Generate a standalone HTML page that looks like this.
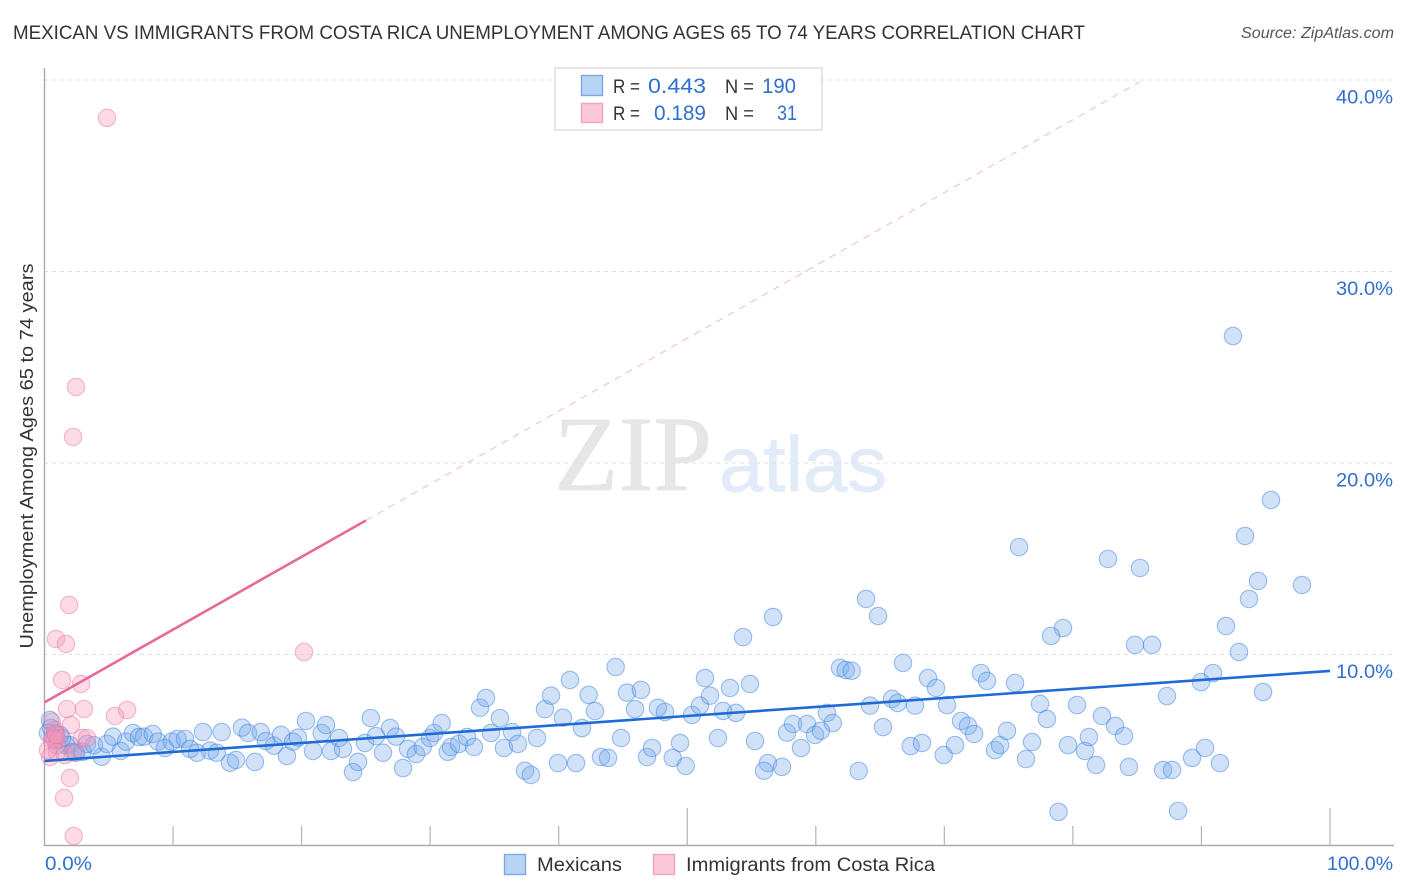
<!DOCTYPE html>
<html lang="en">
<head>
<meta charset="utf-8">
<title>Mexican vs Immigrants from Costa Rica Unemployment Correlation Chart</title>
<style>
  html, body { margin: 0; padding: 0; background: #fff; }
  svg { display: block; font-family: "Liberation Sans", sans-serif; }
</style>
</head>
<body>
<svg id="chart" width="1406" height="892" viewBox="0 0 1406 892">
  <text x="13" y="39" font-size="19.5" fill="#333" textLength="1072" lengthAdjust="spacingAndGlyphs">MEXICAN VS IMMIGRANTS FROM COSTA RICA UNEMPLOYMENT AMONG AGES 65 TO 74 YEARS CORRELATION CHART</text>
  <text x="1394" y="38" font-size="15.5" font-style="italic" fill="#555" text-anchor="end" textLength="153" lengthAdjust="spacingAndGlyphs">Source: ZipAtlas.com</text>
  <g id="watermark">
    <text x="554" y="490" font-family="Liberation Serif, serif" font-size="107" fill="#e6e6e6" stroke="#e6e6e6" stroke-width="0.8" textLength="158" lengthAdjust="spacingAndGlyphs">ZIP</text>
    <text x="719" y="491" font-size="78" fill="#e2ebf8" stroke="#e2ebf8" stroke-width="0.8" textLength="168" lengthAdjust="spacingAndGlyphs">atlas</text>
  </g>
  <g id="grid"></g>
  <g id="axes"></g>
  <g id="points-blue"></g>
  <g id="points-pink"></g>
  <g id="trends"></g>
  <g id="labels"></g>
  <text transform="translate(33,456) rotate(-90)" font-size="18.5" fill="#333" text-anchor="middle" textLength="385" lengthAdjust="spacingAndGlyphs">Unemployment Among Ages 65 to 74 years</text>

  <g id="stats-legend">
    <rect x="555" y="68" width="267" height="62" fill="#fff" stroke="#e0e0e0" stroke-width="1.6"></rect>
    <rect x="581.5" y="75.5" width="21" height="20" fill="#b9d3f5" stroke="#7ba7e6" stroke-width="1.4"></rect>
    <rect x="581.5" y="103.5" width="21" height="19" fill="#fbc8d9" stroke="#f4a3bf" stroke-width="1.4"></rect>
    <text x="613" y="93" font-size="19" fill="#333" textLength="27" lengthAdjust="spacingAndGlyphs">R =</text>
    <text x="648" y="93" font-size="21" fill="#2f6fd0" textLength="58" lengthAdjust="spacingAndGlyphs">0.443</text>
    <text x="725" y="93" font-size="19" fill="#333" textLength="29" lengthAdjust="spacingAndGlyphs">N =</text>
    <text x="762" y="93" font-size="21" fill="#2f6fd0" textLength="34" lengthAdjust="spacingAndGlyphs">190</text>
    <text x="613" y="120" font-size="19" fill="#333" textLength="27" lengthAdjust="spacingAndGlyphs">R =</text>
    <text x="654" y="120" font-size="21" fill="#2f6fd0" textLength="52" lengthAdjust="spacingAndGlyphs">0.189</text>
    <text x="725" y="120" font-size="19" fill="#333" textLength="29" lengthAdjust="spacingAndGlyphs">N =</text>
    <text x="777" y="120" font-size="21" fill="#2f6fd0" textLength="20" lengthAdjust="spacingAndGlyphs">31</text>
  </g>

  <g id="bottom-legend">
    <rect x="504.5" y="854.5" width="21" height="20" fill="#b9d3f5" stroke="#7ba7e6" stroke-width="1.4"></rect>
    <text x="537" y="871" font-size="19.5" fill="#333" textLength="85" lengthAdjust="spacingAndGlyphs">Mexicans</text>
    <rect x="653.5" y="854.5" width="21" height="20" fill="#fbc8d9" stroke="#f4a3bf" stroke-width="1.4"></rect>
    <text x="686" y="871" font-size="19.5" fill="#333" textLength="249" lengthAdjust="spacingAndGlyphs">Immigrants from Costa Rica</text>
  </g>
</svg>
<script>
const yTicks = [10, 20, 30, 40];
const yTickLabels = ["10.0%", "20.0%", "30.0%", "40.0%"];
const xTicks = [0, 10, 20, 30, 40, 50, 60, 70, 80, 90, 100];
const xTickLabels = ["0.0%", "100.0%"];

const mexicansX = [0.43,0.5,0.82,1.2,1.67,1.98,2.2,1.36,0.27,0.97,
4.45,2.45,2.97,3.31,3.85,4.86,5.33,5.93,6.34,6.88,7.35,7.74,8.42,8.83,9.37,9.9,10.36,10.93,11.32,11.86,
12.33,12.87,13.4,13.78,14.43,14.9,15.36,15.83,16.37,16.82,17.23,17.85,18.4,18.86,19.33,19.72,20.34,20.89,21.56,21.9,
22.29,22.91,23.22,24,24.39,24.93,25.38,25.79,26.33,26.88,27.34,27.89,28.28,28.9,29.42,29.99,30.3,30.9,31.37,31.62,
32.24,32.87,33.41,33.88,34.34,34.73,35.43,35.74,36.37,36.83,37.38,37.84,38.31,38.93,39.4,39.95,40.33,40.88,41.35,41.81,
42.33,42.82,43.29,43.84,44.43,44.85,45.31,45.94,46.4,46.87,47.26,47.72,48.27,48.87,49.44,49.88,50.37,50.99,51.38,51.77,
52.78,53.33,53.79,52.39,54.88,55.27,56.28,55.97,57.37,57.76,58.23,58.85,59.32,59.94,60.4,60.87,61.32,61.88,62.33,62.79,
63.34,64.22,65.23,65.93,66.37,66.78,67.38,67.72,68.26,68.73,69.35,69.95,70.21,70.83,71.3,71.84,72.31,72.85,73.32,73.94,
74.33,74.87,75.5,76.35,76.82,77.44,77.98,80.32,79.62,78.88,80.94,81.25,81.8,82.26,83.28,83.97,84.36,84.83,86.15,87.01,
87.71,87.32,88.18,89.27,90.28,91.44,89.96,90.9,92.92,94.79,92.45,95.41,93.39,75.81,82.73,85.22,94.4,97.82,93.7,63.91,
64.84,56.67,54.34,91.91,79.23,78.3];
const mexicansY = [6.58,6.16,5.9,5.8,5.27,5.27,4.9,5.64,5.9,5.27,
4.66,4.87,4.92,5.33,5.27,5.33,5.71,4.96,5.45,5.9,5.69,5.71,5.85,5.45,5.12,5.45,5.59,5.59,5.07,4.87,
5.95,4.98,4.87,5.95,4.35,4.49,6.18,5.9,4.39,5.95,5.48,5.24,5.8,4.7,5.45,5.66,6.53,4.96,5.9,6.32,
4.96,5.64,5.07,3.86,4.39,5.38,6.68,5.74,4.87,6.16,5.71,4.07,5.07,4.8,5.17,5.64,5.9,6.42,4.92,5.17,
5.33,5.69,5.17,7.22,7.73,5.9,6.68,5.12,5.95,5.33,3.93,3.71,5.64,7.15,7.85,4.33,6.7,8.67,4.33,6.16,
7.89,7.05,4.65,4.6,9.35,5.64,8.01,7.15,8.15,4.65,5.12,7.22,7,4.6,5.38,4.18,6.84,7.33,8.77,7.85,
7.05,8.25,6.95,5.64,8.46,5.48,4.33,3.93,4.13,5.92,6.37,5.12,6.37,5.8,6.02,6.95,6.42,9.3,9.19,9.15,
3.92,7.33,6.21,7.68,7.47,9.56,5.22,7.33,5.38,8.77,8.25,4.75,7.36,5.27,6.53,6.27,5.85,9.03,8.62,5.01,
5.27,6.01,8.51,4.54,5.43,7.42,6.63,7.36,5.27,1.78,4.96,5.69,4.23,6.79,6.27,5.74,4.13,10.5,10.5,3.97,
3.97,7.83,1.83,4.6,5.12,4.33,8.56,9.03,10.13,8.04,26.63,18.07,16.19,15.61,14.99,14.52,13.84,13.63,12.9,12.9,
12.01,11.96,10.91,11.49,11.38,10.97];

const costaRicaX = [4.86,2.45,2.22,1.91,0.89,1.67,20.19,1.36,2.84,1.75,3.07,6.42,5.48,2.06,1.98,1.52,2.27,
0.58,0.82,0.58,0.82,0.74,1.05,0.43,0.97,1.59,2.37,2.92,3.31,0.27,0.89];
const costaRicaY = [38.02,23.97,21.36,12.59,10.81,10.55,10.13,8.67,8.46,7.15,7.15,7.1,6.79,6.32,3.55,2.51,0.52,
6.48,6.06,5.54,5.54,5.64,5.54,4.65,4.91,4.75,4.91,5.64,5.64,5.01,5.8];

const mexicansTrendX = [0, 100];
const mexicansTrendY = [4.44, 9.14];
const costaRicaTrendX = [0, 25];
const costaRicaTrendY = [7.5, 17.0];
const costaRicaProjectionX = [25, 85.2];
const costaRicaProjectionY = [17.0, 39.9];

const NS = "http://www.w3.org/2000/svg";
const plotLeft = 44.5, plotRight = 1330, plotBottom = 846, plotTop = 80;
const xScale = v => plotLeft + (v / 100) * (plotRight - plotLeft);
const yScale = v => plotBottom - (v / 40) * (plotBottom - plotTop);

function make(parentId, tag, attrs, text) {
  const el = document.createElementNS(NS, tag);
  for (const k in attrs) el.setAttribute(k, attrs[k]);
  if (text !== undefined) el.textContent = text;
  document.getElementById(parentId).appendChild(el);
  return el;
}

yTicks.forEach((t, i) => {
  const line = make("grid", "line", {x1: 44, x2: 1394, y1: yScale(t), y2: yScale(t), stroke: "#e2e2e2", "stroke-width": 1, "stroke-dasharray": "4 4"});
  
  
  const label = make("labels", "text", {x: 1393, y: yScale(t) + 23.5, "text-anchor": "end", "font-size": 19.5, fill: "#2f6fd0", textLength: 57, lengthAdjust: "spacingAndGlyphs"}, yTickLabels[i]);
  
  
});

const yAxisLine = make("axes", "line", {x1: 44.5, x2: 44.5, y1: 68, y2: plotBottom, stroke: "#aaa", "stroke-width": 1.4});


const xAxisLine = make("axes", "line", {x1: 44, x2: 1394, y1: plotBottom - 0.5, y2: plotBottom - 0.5, stroke: "#aaa", "stroke-width": 1.4});



xTicks.slice(1).forEach(t => {
  const tall = t === 50 || t === 100;
  const tick = make("axes", "line", {x1: xScale(t), x2: xScale(t), y1: tall ? 808 : 826, y2: plotBottom, stroke: "#b4b4b4", "stroke-width": 1.2});
  
  
});

const xLabelLow = make("labels", "text", {x: 45, y: 870, "font-size": 19.5, fill: "#2f6fd0", textLength: 47, lengthAdjust: "spacingAndGlyphs"}, xTickLabels[0]);


const xLabelHigh = make("labels", "text", {x: 1393, y: 870, "text-anchor": "end", "font-size": 19.5, fill: "#2f6fd0", textLength: 66, lengthAdjust: "spacingAndGlyphs"}, xTickLabels[1]);



mexicansX.forEach((x, i) => {
  const c = make("points-blue", "circle", {cx: xScale(x), cy: yScale(mexicansY[i]), r: 8.7, fill: "rgba(120,170,235,0.34)", stroke: "rgba(60,130,225,0.5)", "stroke-width": 1.1});
  
  
});
costaRicaX.forEach((x, i) => {
  const c = make("points-pink", "circle", {cx: xScale(x), cy: yScale(costaRicaY[i]), r: 8.7, fill: "rgba(245,150,185,0.34)", stroke: "rgba(232,120,160,0.5)", "stroke-width": 1.1});
  
  
});

const projection = make("trends", "line", {x1: xScale(costaRicaProjectionX[0]), y1: yScale(costaRicaProjectionY[0]), x2: xScale(costaRicaProjectionX[1]), y2: yScale(costaRicaProjectionY[1]), stroke: "#f4b8cd", "stroke-width": 1, "stroke-dasharray": "7 6"});


const pinkTrend = make("trends", "line", {x1: xScale(costaRicaTrendX[0]), y1: yScale(costaRicaTrendY[0]), x2: xScale(costaRicaTrendX[1]), y2: yScale(costaRicaTrendY[1]), stroke: "#e8689a", "stroke-width": 2.6});


const blueTrend = make("trends", "line", {x1: xScale(mexicansTrendX[0]), y1: yScale(mexicansTrendY[0]), x2: xScale(mexicansTrendX[1]), y2: yScale(mexicansTrendY[1]), stroke: "#1f6bd6", "stroke-width": 2.6});


</script>
</body>
</html>
